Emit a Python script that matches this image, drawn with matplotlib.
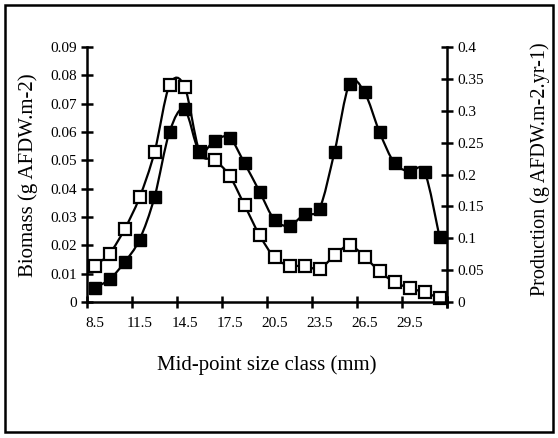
import matplotlib
matplotlib.use("Agg")
import matplotlib.pyplot as plt
import numpy as np
from matplotlib.patches import PathPatch, Rectangle
from matplotlib.path import Path

plt.rcParams["font.family"] = ["Liberation Serif", "DejaVu Serif"]

size_class = [8.5, 9.5, 10.5, 11.5, 12.5, 13.5, 14.5, 15.5, 16.5, 17.5, 18.5, 19.5,
              20.5, 21.5, 22.5, 23.5, 24.5, 25.5, 26.5, 27.5, 28.5, 29.5, 30.5, 31.5]
biomass = [0.005, 0.008, 0.014, 0.022, 0.037, 0.060, 0.068, 0.053, 0.057, 0.058, 0.049, 0.039,
           0.029, 0.027, 0.031, 0.033, 0.053, 0.077, 0.074, 0.060, 0.049, 0.046, 0.046, 0.023]
production = [0.057, 0.076, 0.114, 0.164, 0.235, 0.340, 0.338, 0.236, 0.223, 0.198, 0.152, 0.105,
              0.070, 0.057, 0.057, 0.052, 0.073, 0.089, 0.071, 0.048, 0.031, 0.022, 0.015, 0.006]

x_labels = ["8.5", "11.5", "14.5", "17.5", "20.5", "23.5", "26.5", "29.5"]
left_ticks = ["0", "0.01", "0.02", "0.03", "0.04", "0.05", "0.06", "0.07", "0.08", "0.09"]
right_ticks = ["0", "0.05", "0.1", "0.15", "0.2", "0.25", "0.3", "0.35", "0.4"]

W, H = 558, 438


def smooth_path(xs, ys):
    # Excel-style smoothed line: cubic Bezier segments with Catmull-Rom control points
    pts = np.column_stack([xs, ys]).astype(float)
    padded = np.vstack([pts[0], pts, pts[-1]])
    verts = [pts[0]]
    codes = [Path.MOVETO]
    for i in range(len(pts) - 1):
        p0, p1, p2, p3 = padded[i], padded[i + 1], padded[i + 2], padded[i + 3]
        verts += [p1 + (p2 - p0) / 6, p2 - (p3 - p1) / 6, p2]
        codes += [Path.CURVE4] * 3
    return Path(verts, codes)


fig = plt.figure(figsize=(W / 100, H / 100), dpi=100)
fig.patches.append(Rectangle((5 / W, 6 / H), 548 / W, 427 / H, transform=fig.transFigure,
                             fill=False, edgecolor="black", linewidth=1.8))

ax1 = fig.add_axes([87 / W, (H - 302) / H, 360 / W, 255 / H])
ax2 = ax1.twinx()
ax1.set_zorder(ax2.get_zorder() + 1)
ax1.patch.set_visible(False)

ax2.add_patch(PathPatch(smooth_path(size_class, production), fill=False, edgecolor="black",
                        linewidth=1.6, clip_on=False))
ax2.plot(size_class, production, linestyle="none", marker="s", markersize=8.5,
         markerfacecolor="white", markeredgecolor="black", markeredgewidth=1.6, clip_on=False)

ax1.add_patch(PathPatch(smooth_path(size_class, biomass), fill=False, edgecolor="black",
                        linewidth=1.6, clip_on=False))
ax1.plot(size_class, biomass, linestyle="none", marker="s", markersize=9,
         markerfacecolor="black", markeredgecolor="black", clip_on=False)

ax1.set_xlim(8, 32)
ax1.set_ylim(0, 0.09)
ax2.set_ylim(0, 0.4)

ax1.set_xticks(np.arange(8, 33, 3).tolist() + [32])
ax1.set_xticklabels([])
ax1.set_xticks([float(v) for v in x_labels], minor=True)
ax1.set_xticklabels(x_labels, minor=True)
ax1.tick_params(axis="x", which="minor", length=0, pad=11, labelsize=11)
ax1.tick_params(axis="x", which="major", direction="inout", length=8, width=1.8)

ax1.set_yticks([float(v) for v in left_ticks])
ax1.set_yticklabels(left_ticks)
ax1.tick_params(axis="y", direction="inout", length=8, width=1.8, pad=3, labelsize=11)

ax2.set_yticks([float(v) for v in right_ticks])
ax2.set_yticklabels(right_ticks)
ax2.tick_params(axis="y", direction="inout", length=8, width=1.8, pad=3.5, labelsize=11)

for ax in (ax1, ax2):
    ax.spines["top"].set_visible(False)
    for side in ("left", "right", "bottom"):
        ax.spines[side].set_linewidth(1.8)
ax1.spines["right"].set_visible(False)
ax2.spines["left"].set_visible(False)
ax2.spines["bottom"].set_visible(False)

fig.text(267 / W, 1 - 365 / H, "Mid-point size class (mm)", fontsize=15, ha="center", va="center")
fig.text(28 / W, 1 - 175 / H, "Biomass (g AFDW.m-2)", fontsize=15, rotation=90,
         ha="center", va="center")
fig.text(540 / W, 1 - 169 / H, "Production (g AFDW.m-2.yr-1)", fontsize=14.5, rotation=90,
         ha="center", va="center")

fig.savefig("out.png", dpi=100)
